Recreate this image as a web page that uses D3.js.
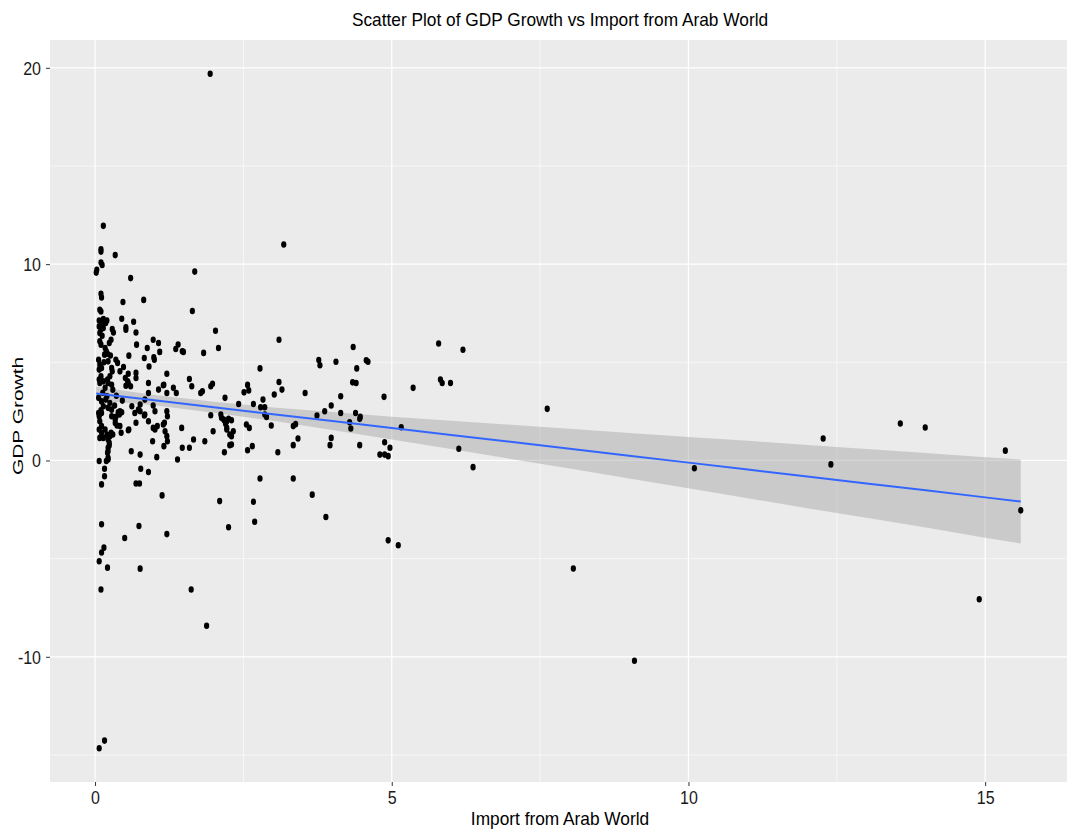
<!DOCTYPE html>
<html>
<head>
<meta charset="utf-8">
<script src="https://cdn.jsdelivr.net/npm/d3@7"></script>
<style>
  body { margin: 0; background: #fff; }
  text { font-family: "Liberation Sans", Arial, sans-serif; }
</style>
</head>
<body>
<div id="chart"></div>
<script>
// points: [import from arab world, gdp growth]
var points = [
  [1.94,19.7],[3.18,11.0],[0.14,11.95],[0.10,10.76],[0.10,10.64],[0.34,10.46],[0.10,10.08],[0.12,9.96],
  [0.03,9.71],[0.02,9.57],[1.68,9.62],[0.60,9.29],[0.10,8.49],[0.11,8.30],[0.47,8.07],[0.82,8.18],
  [0.08,7.68],[0.10,7.59],[1.64,7.61],[0.45,7.22],[0.65,7.07],[0.52,6.78],[0.52,6.66],[0.69,6.52],
  [2.03,6.61],[0.29,6.69],
  [0.07,7.13],[0.11,7.00],[0.14,7.20],[0.18,7.00],[0.20,7.13],[0.07,6.83],[0.10,6.69],[0.14,6.75],
  [0.08,6.49],[0.12,6.35],[0.31,6.52],[0.08,6.07],[0.10,5.90],[0.27,6.15],[0.24,5.98],[0.70,5.90],
  [0.98,6.15],[1.07,5.98],[0.88,5.73],[1.40,5.91],[1.36,5.68],[1.49,5.53],[1.09,5.53],[2.08,5.73],
  [1.83,5.48],[0.57,5.34],[0.83,5.22],[0.99,5.25],[1.00,5.13],[0.91,4.79],[1.21,4.42],[1.59,4.15],
  [1.63,3.78],[1.98,3.91],[1.95,3.78],[1.81,3.52],[1.78,3.44],[0.90,3.95],[1.15,3.83],[1.32,3.70],
  [1.37,3.44],[1.07,3.61],[1.21,3.44],[0.90,3.44],[2.19,3.19],
  [0.17,5.73],[0.19,5.56],[0.16,5.39],[0.21,5.44],[0.06,5.13],[0.08,4.88],[0.07,4.63],[0.11,4.71],
  [0.10,4.29],[0.07,4.12],[0.22,5.05],[0.28,4.71],[0.35,5.13],[0.38,4.97],[0.29,4.54],[0.25,4.29],
  [0.21,4.12],[0.42,4.54],[0.48,4.76],[0.51,4.20],[0.55,4.03],[0.56,4.42],[0.52,3.81],[0.69,4.46],
  [0.69,4.20],[1.47,5.56],
  [0.08,3.95],[0.14,4.03],[0.22,3.95],[0.28,3.86],[0.17,3.70],[0.56,3.95],[0.60,3.78],[1.16,3.86],
  [0.06,3.19],[0.11,3.01],[0.20,3.27],[0.25,2.93],[0.14,2.76],[0.22,2.68],[0.28,2.59],[0.11,2.42],
  [0.06,2.42],[0.42,2.51],[0.41,2.34],[0.34,2.08],[0.28,2.25],[0.62,2.76],[0.67,2.42],[0.76,2.51],
  [0.69,1.92],[0.84,2.34],[0.90,2.00],[1.01,2.51],[1.05,1.75],[1.01,1.58],[1.21,2.51],[1.22,2.25],
  [1.17,1.92],[0.07,2.25],[0.08,2.00],[0.11,1.75],[0.07,1.58],[0.11,1.41],[0.14,1.15],[0.08,1.15],
  [0.17,1.58],[0.20,1.32],[0.25,1.24],[0.30,1.32],[0.44,1.41],[0.57,1.58],[1.15,1.83],[1.18,1.49],
  [1.21,1.24],[1.22,0.98],[1.16,0.73],[1.46,1.66],[1.66,1.07],[1.85,0.98],[1.99,1.49],[2.13,2.17],
  [2.19,2.00],[2.22,1.66],[2.27,1.32],[2.33,1.49],[2.30,0.81],[2.18,0.42],[0.97,0.98],[1.13,-1.78],
  [1.04,0.17],[1.47,0.65],[1.59,0.65],[1.39,0.05],[0.61,0.47],[0.76,0.30],[0.77,-0.42],[0.90,-0.59],
  [0.22,1.07],[0.24,0.76],[0.22,0.47],[0.22,0.05],[0.19,-0.03],[0.07,-0.03],[0.16,-0.42],[0.16,-0.80],
  [0.11,-1.22],[0.69,-1.17],[0.75,-1.17],[2.10,-2.07],[0.11,-3.25],[0.74,-3.34],[2.25,-3.40],
  [0.50,-3.95],[1.21,-3.75],[2.67,-2.10],[2.69,-3.12],[0.15,-4.44],[0.11,-4.69],[0.07,-5.13],[0.21,-5.46],
  [0.76,-5.51],[0.10,-6.57],[1.62,-6.57],[1.88,-8.42],[0.07,-14.66],[0.16,-14.27],
  [2.78,-0.92],[3.34,-0.92],[3.66,-1.74],[3.89,-2.88],[4.94,-4.07],[5.11,-4.32],
  [3.10,6.15],[2.78,4.69],[3.77,5.12],[3.79,4.85],[4.06,5.03],[4.35,5.78],[4.41,4.69],[4.60,5.03],
  [4.57,5.10],[5.79,5.96],[5.82,4.12],[5.85,3.95],[5.99,3.95],[6.20,5.64],
  [2.57,3.85],[2.51,3.47],[2.59,3.57],[3.10,4.00],[3.15,3.61],[3.02,3.36],[2.42,2.88],[2.67,2.88],
  [2.83,3.10],[2.86,2.71],[2.79,2.71],[2.12,2.34],[2.17,2.08],[2.22,2.00],[2.25,2.12],[2.30,2.05],
  [2.20,1.87],[1.95,2.30],[2.55,1.83],[2.60,1.66],[2.57,0.52],[2.65,0.73],[2.30,1.24],[2.27,0.78],
  [2.22,1.58],[2.97,1.78],[3.08,0.42],[3.34,1.75],[3.38,1.85],[3.42,1.12],[3.34,0.78],[2.86,2.34],
  [2.89,2.22],[3.54,3.44],[3.74,2.29],[3.87,2.51],[3.98,2.80],[4.14,2.42],[4.39,2.42],[4.46,2.12],
  [4.47,2.22],[4.29,1.95],[4.31,1.63],[3.98,1.15],[3.96,0.78],[4.46,0.78],[4.14,3.27],[4.34,3.98],
  [4.40,3.95],[4.87,3.24],[5.16,1.69],[4.88,0.93],[4.97,0.65],[4.80,0.30],[4.88,0.30],[4.94,0.22],
  [5.36,3.70],[6.13,0.60],[6.37,-0.34],[7.62,2.63],
  [10.1,-0.4],[8.06,-5.5],[9.09,-10.2],[12.27,1.12],[12.4,-0.2],[13.57,1.88],[13.99,1.68],[14.9,-7.07],
  [15.34,0.5],[15.6,-2.54],
  [0.10,2.56],[0.39,2.46],[0.45,2.46],[0.35,2.22],[0.34,1.91],[0.37,1.78],[0.42,1.75],[0.27,1.41],
  [0.24,0.90],[0.22,0.65],[0.21,0.39],[0.22,0.14],[0.56,1.54],[0.73,2.59],[0.76,2.85],[0.83,2.29],
  [0.84,3.10],[0.98,2.80],[0.98,1.66],
  [0.13,3.45],[0.18,3.10],[0.30,3.60],[0.36,3.30],[0.46,3.05],[0.33,2.80],[0.15,5.00],[0.26,5.35]
];

// fitted line and its band
var fitX  = [0.02, 1, 2, 3, 4, 5, 6, 7, 8, 9, 10, 11, 12, 13, 14, 15, 15.6];
var fitY  = [3.41, 3.07, 2.71, 2.36, 2.01, 1.65, 1.30, 0.95, 0.60, 0.24, -0.11, -0.46, -0.82, -1.17, -1.52, -1.88, -2.09];
var fitHi = [3.75, 3.33, 2.99, 2.70, 2.47, 2.23, 2.02, 1.82, 1.61, 1.40, 1.20, 1.00, 0.79, 0.58, 0.38, 0.17, 0.05];
var fitLo = [3.07, 2.81, 2.43, 2.02, 1.55, 1.07, 0.58, 0.08, -0.41, -0.92, -1.42, -1.92, -2.43, -2.92, -3.42, -3.93, -4.23];

var xTicks = [0, 5, 10, 15];
var yTicks = [-10, 0, 10, 20];

var svgWidth = 1067;
var svgHeight = 829;
var panel = {left: 50, right: 1067, top: 40, bottom: 782};

var svg = d3.select("#chart")
    .append("svg")
    .attr("width", svgWidth)
    .attr("height", svgHeight);

// ggplot style 5% expansion
var xExt = d3.extent(points, d => d[0]);
var yExt = d3.extent(points, d => d[1]);
var xPad = (xExt[1] - xExt[0]) * 0.05;
var yPad = (yExt[1] - yExt[0]) * 0.05;

var x = d3.scaleLinear()
    .domain([xExt[0] - xPad, xExt[1] + xPad])
    .range([panel.left, panel.right]);
var y = d3.scaleLinear()
    .domain([yExt[0] - yPad, yExt[1] + yPad])
    .range([panel.bottom, panel.top]);

svg.append("rect")
    .attr("x", panel.left)
    .attr("y", panel.top)
    .attr("width", panel.right - panel.left)
    .attr("height", panel.bottom - panel.top)
    .attr("fill", "#ebebeb");

// minor grid
var xMinor = [2.5, 7.5, 12.5];
var yMinor = [-15, -5, 5, 15];
svg.selectAll(".xminor").data(xMinor).enter().append("line")
    .attr("x1", d => x(d)).attr("x2", d => x(d))
    .attr("y1", panel.top).attr("y2", panel.bottom)
    .attr("stroke", "#fff").attr("stroke-width", 0.6);
svg.selectAll(".yminor").data(yMinor).enter().append("line")
    .attr("y1", d => y(d)).attr("y2", d => y(d))
    .attr("x1", panel.left).attr("x2", panel.right)
    .attr("stroke", "#fff").attr("stroke-width", 0.6);

// major grid
svg.selectAll(".xmajor").data(xTicks).enter().append("line")
    .attr("x1", d => x(d)).attr("x2", d => x(d))
    .attr("y1", panel.top).attr("y2", panel.bottom)
    .attr("stroke", "#fff").attr("stroke-width", 1.2);
svg.selectAll(".ymajor").data(yTicks).enter().append("line")
    .attr("y1", d => y(d)).attr("y2", d => y(d))
    .attr("x1", panel.left).attr("x2", panel.right)
    .attr("stroke", "#fff").attr("stroke-width", 1.2);

// band + line
var fit = fitX.map((d, i) => ({x: d, y: fitY[i], lo: fitLo[i], hi: fitHi[i]}));

svg.append("path")
    .datum(fit)
    .attr("d", d3.area().x(d => x(d.x)).y0(d => y(d.lo)).y1(d => y(d.hi)))
    .attr("fill", "#999")
    .attr("fill-opacity", 0.4);

// points
svg.append("g").selectAll("ellipse")
    .data(points)
    .enter()
    .append("ellipse")
    .attr("cx", d => x(d[0]))
    .attr("cy", d => y(d[1]))
    .attr("rx", 2.6)
    .attr("ry", 3.3)
    .attr("fill", "#000");

svg.append("path")
    .datum(fit)
    .attr("d", d3.line().x(d => x(d.x)).y(d => y(d.y)))
    .attr("fill", "none")
    .attr("stroke", "#3366ff")
    .attr("stroke-width", 2);

// axes (plain hyphen for negatives, like R)
var plain = d => String(d);
var xAxis = svg.append("g")
    .attr("transform", "translate(0," + panel.bottom + ")")
    .call(d3.axisBottom(x).tickValues(xTicks).tickFormat(plain).tickSize(4).tickPadding(4));
var yAxis = svg.append("g")
    .attr("transform", "translate(" + panel.left + ",0)")
    .call(d3.axisLeft(y).tickValues(yTicks).tickFormat(plain).tickSize(4).tickPadding(5));

[xAxis, yAxis].forEach(function(ax) {
    ax.select(".domain").remove();
    ax.selectAll(".tick line").attr("stroke", "#333").attr("stroke-width", 1);
    ax.selectAll(".tick text").attr("fill", "#1a1a1a").style("font-size", "16px");
});

// glyphs in the picture are a little tall
xAxis.selectAll(".tick text").attr("dy", null).attr("y", 0)
    .attr("transform", "translate(0,22) scale(1,1.1)");
yAxis.selectAll(".tick text").attr("dy", null).attr("y", 0)
    .attr("transform", "translate(0,6.5) scale(1,1.1)");

svg.append("text")
    .attr("transform", "translate(560,26) scale(1,1.05)")
    .attr("text-anchor", "middle")
    .style("font-size", "17.3px")
    .attr("fill", "#000")
    .text("Scatter Plot of GDP Growth vs Import from Arab World");

svg.append("text")
    .attr("transform", "translate(560,825) scale(1,1.05)")
    .attr("text-anchor", "middle")
    .style("font-size", "17.3px")
    .attr("fill", "#000")
    .text("Import from Arab World");

svg.append("text")
    .attr("transform", "translate(23,416) rotate(-90) scale(1.35,0.95)")
    .attr("text-anchor", "middle")
    .style("font-size", "15.5px")
    .attr("fill", "#000")
    .text("GDP Growth");
</script>
</body>
</html>
